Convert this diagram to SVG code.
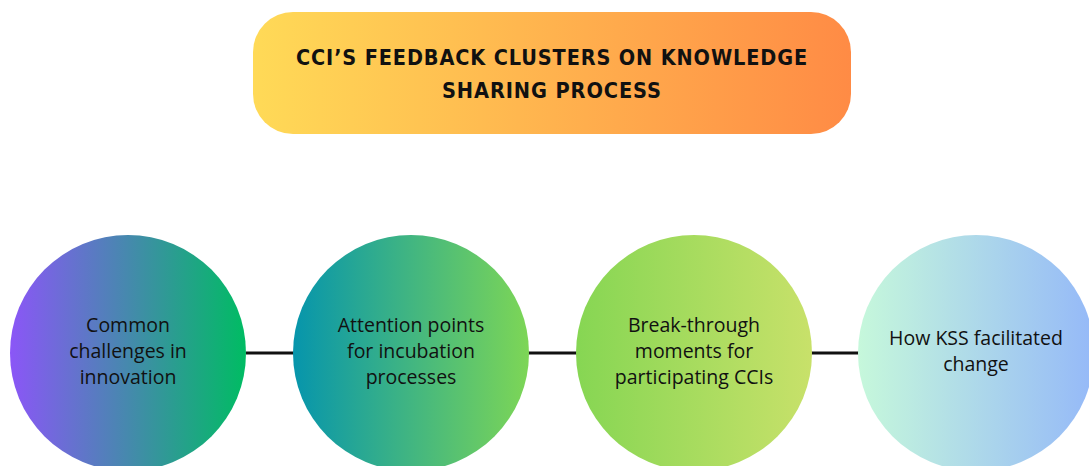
<svg xmlns="http://www.w3.org/2000/svg" width="1089" height="466" viewBox="0 0 1089 466">
<defs>
<linearGradient id="gT" x1="0" y1="0" x2="1" y2="0"><stop offset="0" stop-color="#FFDA57"/><stop offset="1" stop-color="#FF8B45"/></linearGradient>
<linearGradient id="g1" x1="0" y1="0" x2="1" y2="0"><stop offset="0" stop-color="#8B56F7"/><stop offset="1" stop-color="#00BC63"/></linearGradient>
<linearGradient id="g2" x1="0" y1="0" x2="1" y2="0"><stop offset="0" stop-color="#0695AC"/><stop offset="1" stop-color="#7DD656"/></linearGradient>
<linearGradient id="g3" x1="0" y1="0" x2="1" y2="0"><stop offset="0" stop-color="#86D653"/><stop offset="1" stop-color="#C8E16A"/></linearGradient>
<linearGradient id="g4" x1="0" y1="0" x2="1" y2="0"><stop offset="0" stop-color="#C6F8DB"/><stop offset="1" stop-color="#95B9F8"/></linearGradient>
</defs>
<style>
.t{font-family:"DejaVu Sans",sans-serif;font-weight:bold;font-size:22px;fill:#111;text-anchor:middle;letter-spacing:1px}
.n{font-family:"Open Sans","Noto Sans",sans-serif;font-weight:500;font-size:19.5px;fill:#111;text-anchor:middle}
.c{stroke:#111;stroke-width:3;fill:none}
</style>
<rect width="1089" height="466" fill="#fff"/>
<g id="title">
<rect x="253" y="12" width="598" height="122" rx="40" fill="url(#gT)"/>
<text class="t" x="552" y="65" textLength="512" lengthAdjust="spacingAndGlyphs">CCI’S FEEDBACK CLUSTERS ON KNOWLEDGE</text>
<text class="t" x="552" y="98" textLength="220" lengthAdjust="spacingAndGlyphs">SHARING PROCESS</text>
</g>
<g id="connectors">
<line class="c" x1="246" y1="353" x2="294" y2="353"/>
<line class="c" x1="528" y1="353" x2="577" y2="353"/>
<line class="c" x1="811" y1="353" x2="859" y2="353"/>
</g>
<g id="node1">
<circle cx="128" cy="353" r="118" fill="url(#g1)"/>
<text class="n" x="128" y="332">Common</text>
<text class="n" x="128" y="358">challenges in</text>
<text class="n" x="128" y="384">innovation</text>
</g>
<g id="node2">
<circle cx="411" cy="353" r="118" fill="url(#g2)"/>
<text class="n" x="411" y="332">Attention points</text>
<text class="n" x="411" y="358">for incubation</text>
<text class="n" x="411" y="384">processes</text>
</g>
<g id="node3">
<circle cx="694" cy="353" r="118" fill="url(#g3)"/>
<text class="n" x="694" y="332">Break-through</text>
<text class="n" x="694" y="358">moments for</text>
<text class="n" x="694" y="384">participating CCIs</text>
</g>
<g id="node4">
<circle cx="976" cy="353" r="118" fill="url(#g4)"/>
<text class="n" x="976" y="345">How KSS facilitated</text>
<text class="n" x="976" y="371">change</text>
</g>
</svg>
